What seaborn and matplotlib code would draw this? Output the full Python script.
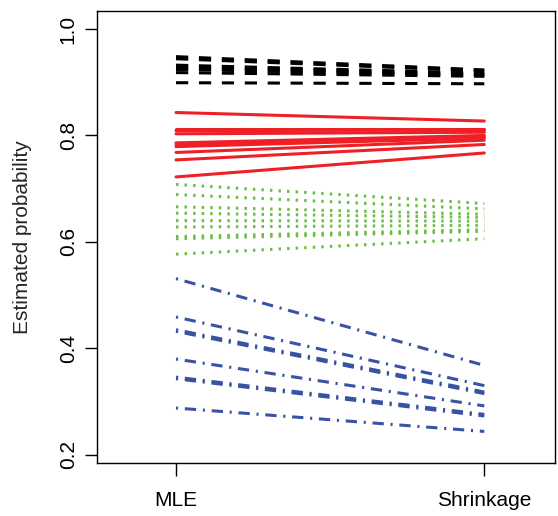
# estimated probabilities: MLE vs shrinkage, four groups

import pandas as pd
import matplotlib.pyplot as plt
import seaborn as sns

sns.set_style("ticks")
plt.rcParams["font.family"] = ["Liberation Sans", "DejaVu Sans"]

methods = ["MLE", "Shrinkage"]

black_mle = [0.948, 0.944, 0.932, 0.928, 0.924, 0.918, 0.899]
black_shr = [0.923, 0.921, 0.917, 0.915, 0.913, 0.911, 0.897]

red_mle = [0.843, 0.812, 0.809, 0.803, 0.786, 0.783, 0.779, 0.768, 0.754, 0.722]
red_shr = [0.827, 0.812, 0.810, 0.806, 0.800, 0.798, 0.795, 0.791, 0.783, 0.767]

green_mle = [0.708, 0.689, 0.666, 0.654, 0.640, 0.628, 0.610, 0.606, 0.577]
green_shr = [0.672, 0.662, 0.652, 0.646, 0.639, 0.631, 0.623, 0.620, 0.606]

blue_mle = [0.531, 0.459, 0.435, 0.432, 0.380, 0.346, 0.343, 0.288]
blue_shr = [0.368, 0.330, 0.318, 0.315, 0.292, 0.276, 0.273, 0.244]

groups = {
    "black": (black_mle, black_shr),
    "red": (red_mle, red_shr),
    "green": (green_mle, green_shr),
    "blue": (blue_mle, blue_shr),
}

rows = []
for g, (mle, shr) in groups.items():
    for i, (a, b) in enumerate(zip(mle, shr)):
        rows.append({"method": methods[0], "prob": a, "group": g, "line": f"{g}{i}"})
        rows.append({"method": methods[1], "prob": b, "group": g, "line": f"{g}{i}"})
df = pd.DataFrame(rows)

palette = {"black": "#000000", "red": "#EE2026", "green": "#6CBE45", "blue": "#3953A4"}
dashes = {"black": (4, 3.5), "red": "", "green": (0.8, 2.0), "blue": (0.7, 2.2, 3.7, 2.2)}

fig = plt.figure(figsize=(5.58, 5.16), dpi=100)
ax = fig.add_axes([0.174, 0.103, 0.821, 0.876])

sns.lineplot(data=df, x="method", y="prob", hue="group", style="group",
             units="line", estimator=None, palette=palette, dashes=dashes,
             linewidth=2.2, legend=False, ax=ax)

ax.set_xlim(-0.256, 1.23)
ax.set_ylim(0.185, 1.034)
ax.set_yticks([0.2, 0.4, 0.6, 0.8, 1.0])
ax.set_yticklabels(["0.2", "0.4", "0.6", "0.8", "1.0"], rotation=90, va="center")
ax.set_xticks([0, 1])
ax.set_xticklabels(methods)
ax.tick_params(axis="both", direction="out", length=9, width=1, labelsize=15, colors="black")
ax.tick_params(axis="x", pad=11)
ax.tick_params(axis="y", pad=5)
ax.set_xlabel("")
ax.set_ylabel("Estimated probability", fontsize=15, labelpad=19)
for s in ax.spines.values():
    s.set_visible(True)
    s.set_color("black")
    s.set_linewidth(1)

fig.savefig("out.png", dpi=100)
